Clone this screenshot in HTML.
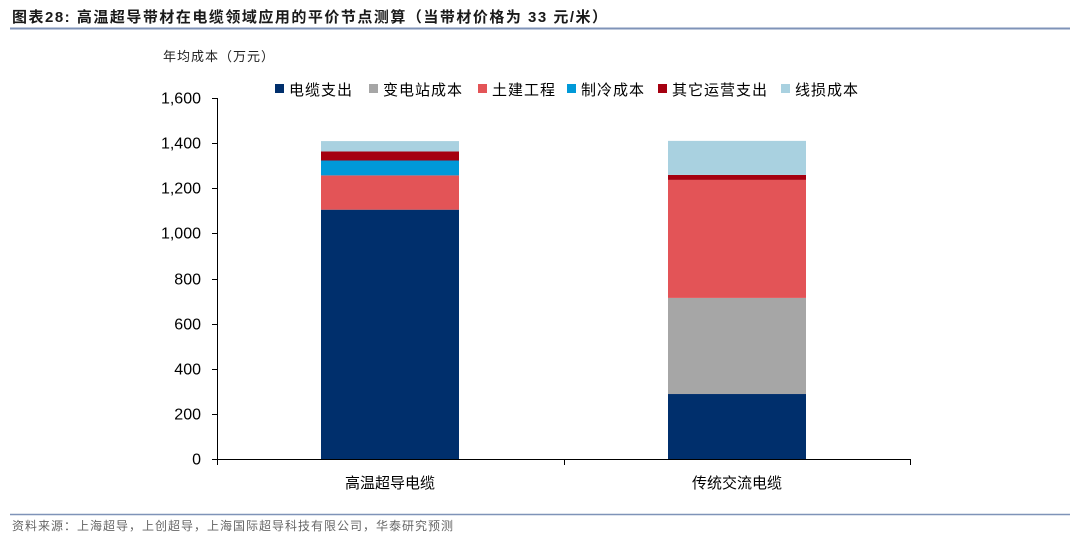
<!DOCTYPE html>
<html><head><meta charset="utf-8"><style>
body{margin:0;width:1080px;height:539px;background:#fff;overflow:hidden;font-family:"Liberation Sans","Noto Sans CJK SC",sans-serif;}
</style></head><body>
<svg width="1080" height="539" xmlns="http://www.w3.org/2000/svg">
<text x="12" y="22" font-size="15" font-weight="bold" fill="#1a1a1a" letter-spacing="1.5">图表28:  高温超导带材在电缆领域应用的平价节点测算（当带材价格为 33 元/米）</text>
<line x1="10" y1="28.5" x2="1070" y2="28.5" stroke="#7f93b8" stroke-width="2"/>
<text x="163" y="61" font-size="13" fill="#222" letter-spacing="1">年均成本（万元）</text>
<g id="legend"></g>
<g id="axes"></g>
<g id="bars"></g>
<line x1="10" y1="514.5" x2="1070" y2="514.5" stroke="#7f93b8" stroke-width="1.5"/>
<text x="12" y="530" font-size="12" fill="#666" letter-spacing="1">资料来源：上海超导，上创超导，上海国际超导科技有限公司，华泰研究预测</text>
</svg>
<script>
const categories=["高温超导电缆","传统交流电缆"];
const seriesNames=["电缆支出","变电站成本","土建工程","制冷成本","其它运营支出","线损成本"];
const seriesColors=["#002f6c","#a6a6a6","#e35457","#0099d8","#a50010","#a9d1e0"];
const cableCost=[1105,288];
const substationCost=[0,426];
const civilCost=[152,523];
const coolingCost=[66,0];
const otherCost=[40,22];
const lineLossCost=[46,151];
const yTicks=[0,200,400,600,800,1000,1200,1400,1600];
const series=[cableCost,substationCost,civilCost,coolingCost,otherCost,lineLossCost];
const NS="http://www.w3.org/2000/svg";
const y0=459,y1=98,xL=217,xR=910;
const yS=v=>y0-(v/1600)*(y0-y1);
const bw=138, centers=[390,737];
function mk(t,a,p){const e=document.createElementNS(NS,t);for(const k in a)e.setAttribute(k,a[k]);p.appendChild(e);return e;}
const ax=document.getElementById('axes');
const yl=mk('line',{x1:xL+0.5,y1:y1,x2:xL+0.5,y2:y0,stroke:'#000'},ax);


const xl=mk('line',{x1:xL,y1:y0+0.5,x2:xR,y2:y0+0.5,stroke:'#000'},ax);


yTicks.forEach(v=>{const y=Math.round(yS(v))+0.5;
mk('line',{x1:xL-5,y1:y,x2:xL,y2:y,stroke:'#000'},ax);
const t=mk('text',{x:201,y:y+5,'text-anchor':'end','font-size':16,fill:'#000'},ax);t.textContent=v.toLocaleString('en-US');

});
[xL,564,xR].forEach(x=>mk('line',{x1:x+0.5,y1:y0,x2:x+0.5,y2:y0+6,stroke:'#000'},ax));
categories.forEach((c,i)=>{const t=mk('text',{x:centers[i],y:488,'text-anchor':'middle','font-size':15,fill:'#000'},ax);t.textContent=c;

});
const bg=document.getElementById('bars');
categories.forEach((c,i)=>{let acc=0;series.forEach((s,j)=>{const v=s[i];if(v<=0)return;
const r=mk('rect',{x:centers[i]-bw/2,y:yS(acc+v),width:bw,height:yS(acc)-yS(acc+v),fill:seriesColors[j]},bg);

acc+=v;});});
const lg=document.getElementById('legend');
const lx=[275,369,478,567,658,781];
seriesNames.forEach((n,j)=>{mk('rect',{x:lx[j],y:84,width:9,height:9,fill:seriesColors[j]},lg);
const t=mk('text',{x:lx[j]+14,y:95,'font-size':15,fill:'#000','letter-spacing':1},lg);t.textContent=n;

});
</script>
</body></html>
